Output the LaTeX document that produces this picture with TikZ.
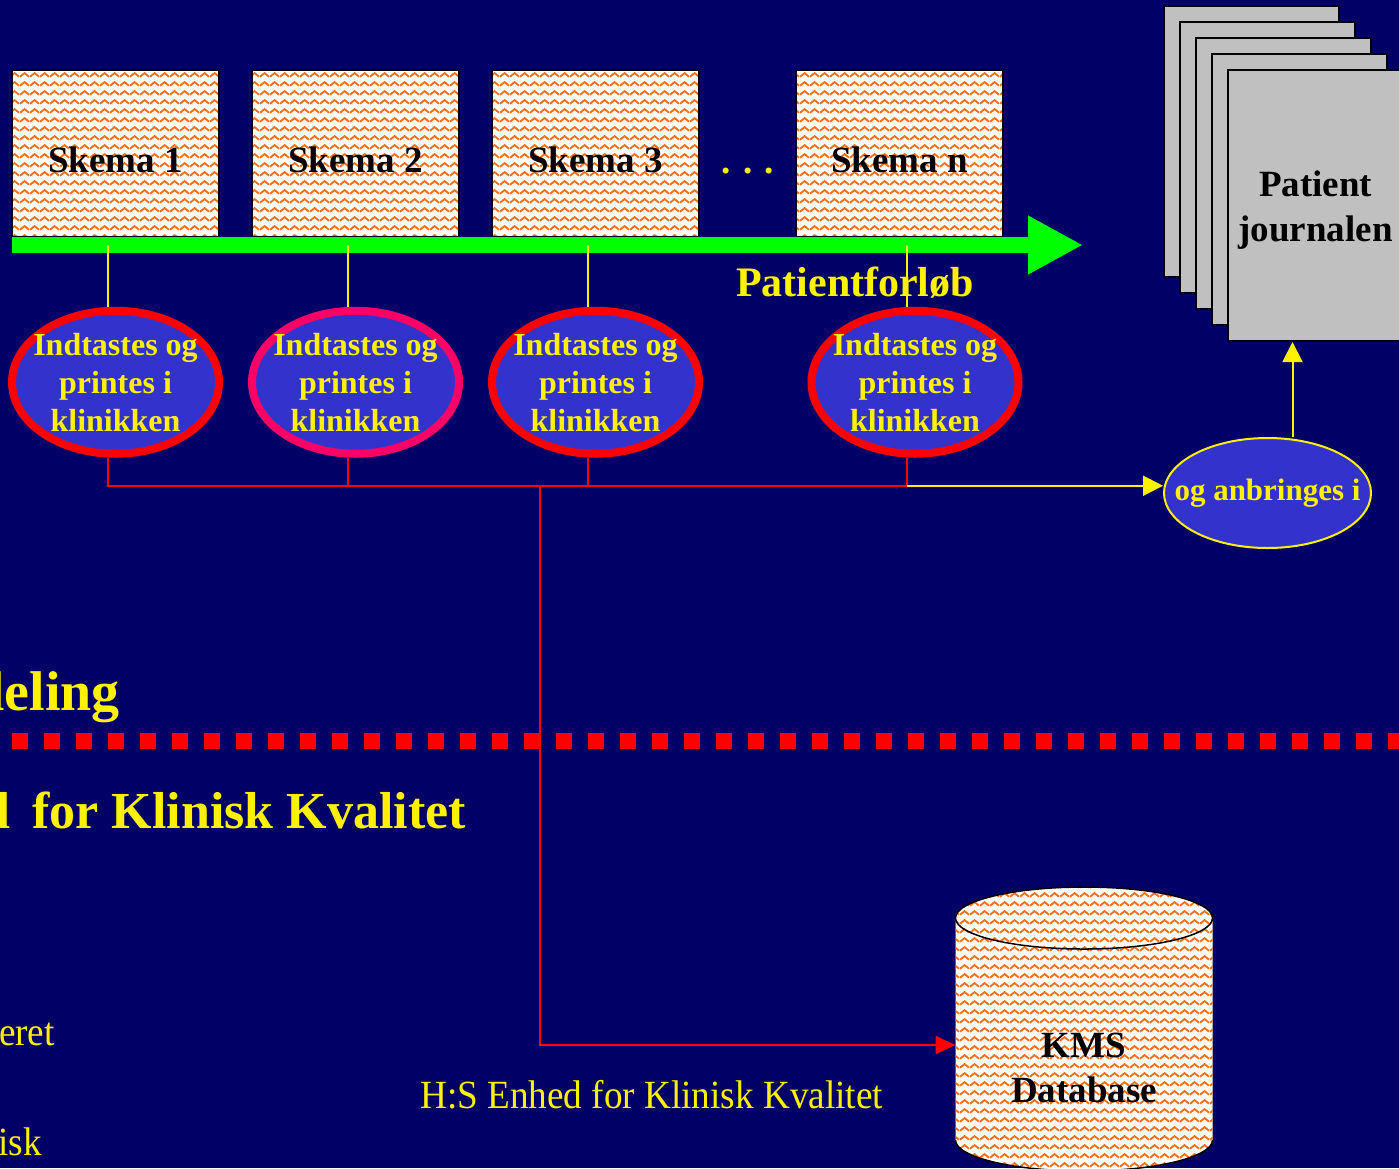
\documentclass[tikz,border=0pt]{standalone}
\usepackage{fontspec}
\setmainfont{Liberation Serif}
\newfontfamily\narrowserif[FakeStretch=0.93]{Liberation Serif}
\usetikzlibrary{positioning,shapes.geometric,patterns,arrows.meta}

\definecolor{slidenavy}{RGB}{0,0,102}
\definecolor{ovalblue}{RGB}{51,51,204}
\definecolor{waveorange}{RGB}{255,110,20}
\definecolor{pagegray}{RGB}{192,192,192}
\definecolor{hotpink}{RGB}{255,0,102}
\definecolor{flowgreen}{RGB}{0,255,0}

% wavy fill of the forms and the database
\pgfdeclarepatternformonly{waves}{\pgfpointorigin}{\pgfqpoint{10pt}{9pt}}{\pgfqpoint{10pt}{9pt}}{%
  \pgfsetlinewidth{2pt}%
  \pgfpathmoveto{\pgfqpoint{0pt}{2.5pt}}%
  \pgfpathcurveto{\pgfqpoint{2.5pt}{2.5pt}}{\pgfqpoint{2.5pt}{6.5pt}}{\pgfqpoint{5pt}{6.5pt}}%
  \pgfpathcurveto{\pgfqpoint{7.5pt}{6.5pt}}{\pgfqpoint{7.5pt}{2.5pt}}{\pgfqpoint{10pt}{2.5pt}}%
  \pgfusepath{stroke}%
}

\tikzset{
  skema/.style={draw=black, line width=1.5pt, preaction={fill=white},
    pattern=waves, pattern color=waveorange, minimum width=207pt,
    minimum height=167pt, inner sep=0pt, text height=39pt,
    font=\fontsize{37}{44}\selectfont\bfseries},
  oval/.style={ellipse, draw=red, line width=8pt, fill=ovalblue,
    minimum width=207pt, minimum height=143pt, inner xsep=-12pt,
    inner ysep=-4pt, align=center, text=yellow,
    font=\fontsize{32}{38}\selectfont\bfseries},
  page/.style={draw=black, line width=2pt, fill=pagegray,
    minimum width=175pt, minimum height=271pt, inner sep=0pt},
  wavefill/.style={preaction={fill=white}, pattern=waves,
    pattern color=waveorange},
  yline/.style={draw=yellow, line width=2pt},
  rline/.style={draw=red, line width=2pt},
  yarrow/.style={yline, -{Triangle[length=20pt,width=20pt]}},
  rarrow/.style={rline, -{Triangle[length=20pt,width=18pt]}},
  title/.style={text=yellow, font=\fontsize{52}{60}\selectfont\bfseries, inner sep=0pt},
  plain/.style={text=yellow, font=\narrowserif\fontsize{40}{48}\selectfont, inner sep=0pt},
}

\begin{document}
\begin{tikzpicture}[x=1pt,y=-1pt]
  % Background
  \fill[slidenavy] (0,0) rectangle (1399,1168);
  \useasboundingbox (0,0) rectangle (1399,1168);

  % Nodes

  % Skemaer
  \node[skema] (box_1) at (115.5,153.5) {Skema 1};
  \node[skema, right=31.5pt of box_1] (box_2) {Skema 2};
  \node[skema, right=31.5pt of box_2] (box_3) {Skema 3};
  \node[skema, right=95.5pt of box_3] (box_n) {Skema n};
  \node[text=yellow, font=\fontsize{37}{44}\selectfont\bfseries] (dots) at (748,171) {. . .};

  % Patientforloeb
  \coordinate (flow_start) at (12,245);
  \coordinate (flow_end) at (1083,245);
  \draw[flowgreen, line width=16pt, -{Triangle[length=55pt,width=55pt]}] (flow_start) -- (flow_end);
  \node[text=yellow, font=\fontsize{42}{48}\selectfont\bfseries] (flow_label) at (855,283) {Patientforløb};

  % Indtastning
  \node[oval, below=68pt of box_1, yshift=-1pt] (oval_1) {Indtastes og\\printes i\\klinikken};
  \node[oval, draw=hotpink, below=68pt of box_2, yshift=-1pt] (oval_2) {Indtastes og\\printes i\\klinikken};
  \node[oval, below=68pt of box_3, yshift=-1pt] (oval_3) {Indtastes og\\printes i\\klinikken};
  \node[oval, below=68pt of box_n, xshift=15.5pt, yshift=-1pt] (oval_n) {Indtastes og\\printes i\\klinikken};

  % Journal
  \foreach \i in {0,...,4}
    \node[page] (page_\i) at ({1251.5+16*\i},{141.5+16*\i}) {};
  \node[font=\fontsize{37}{45}\selectfont\bfseries, align=center] (journal_label) at ([yshift=-5pt]page_4.center) {Patient\\journalen};
  \node[ellipse, draw=yellow, line width=2pt, fill=ovalblue, minimum width=207pt,
    minimum height=110pt, inner xsep=-24pt, inner ysep=0pt, text=yellow,
    font=\fontsize{31}{38}\selectfont\bfseries] (anbringes) at (1267.5,493) {og anbringes i};

  % Afsnit
  \node[title, font=\fontsize{56}{64}\selectfont\bfseries, anchor=base east] (dept_title) at (120,710) {deling};
  \coordinate (split_l) at (12,741);
  \coordinate (split_r) at (1399,741);
  \draw[red, line width=16pt, dash pattern=on 16pt off 16pt] (split_l) -- (split_r);
  \node[title, anchor=base east] (unit_title) at (466,828) {d\hspace{9pt} for Klinisk Kvalitet};
  \node[plain, anchor=base east] (note_1) at (55,1045) {eret};
  \node[plain, anchor=base east] (note_2) at (42,1155) {isk};
  \node[plain, anchor=base west] (unit_name) at (420,1108) {H:S Enhed for Klinisk Kvalitet};

  % Database
  \node[minimum width=257pt, minimum height=284pt, outer sep=0pt] (kms) at (1084,1029) {};
  \path[wavefill] ([yshift=-31pt]kms.north west) -- ([yshift=31pt]kms.south west)
    arc[start angle=180, end angle=0, x radius=128.5, y radius=31]
    -- ([yshift=-31pt]kms.north east)
    arc[start angle=0, end angle=-180, x radius=128.5, y radius=31] -- cycle;
  \draw[line width=1.5pt] ([yshift=-31pt]kms.north) ellipse [x radius=128.5, y radius=31];
  \draw[line width=1.5pt] ([yshift=31pt]kms.south west)
    arc[start angle=180, end angle=0, x radius=128.5, y radius=31];
  \node[font=\fontsize{37}{45}\selectfont\bfseries, align=center] (kms_label) at (1084,1068) {KMS\\Database};

  % Connect the nodes
  \foreach \ov in {oval_1,oval_2,oval_3,oval_n}
    \draw[yline] ([xshift=-8pt]\ov.north) -- ([xshift=-8pt]\ov.north |- flow_start);

  \coordinate (bus_l) at ([xshift=-8pt,yshift=-28pt]oval_1.south);
  \coordinate (bus_r) at ([xshift=-8pt,yshift=-28pt]oval_n.south);
  \coordinate (bus_db) at (540,0 |- bus_l);
  \draw[rline] ([xshift=-8pt]oval_1.south) -- (bus_l) -- (bus_r) -- ([xshift=-8pt]oval_n.south);
  \foreach \ov in {oval_2,oval_3}
    \draw[rline] ([xshift=-8pt]\ov.south) -- ([xshift=-8pt]\ov.south |- bus_l);
  \draw[rarrow] (bus_db) |- ([yshift=-16pt]kms.west);

  \draw[yarrow] (bus_r) -- (bus_r -| anbringes.west);
  \draw[yarrow] ([xshift=25pt]anbringes.north) -- ([xshift=25pt]anbringes.north |- page_4.south);
\end{tikzpicture}
\end{document}
